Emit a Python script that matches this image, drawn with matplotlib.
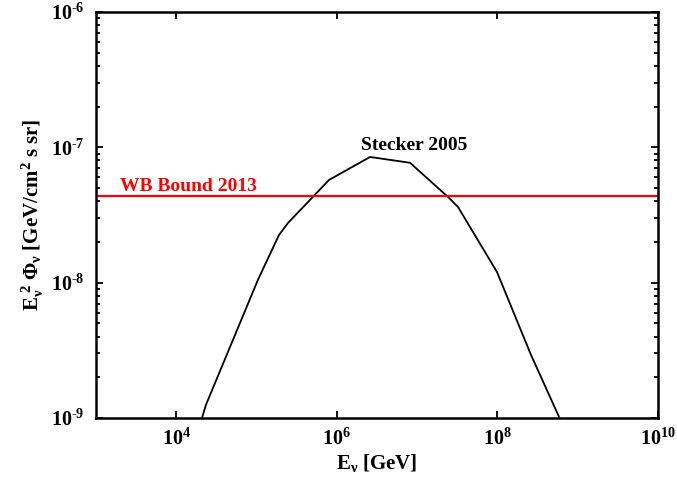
import numpy as np
import matplotlib
matplotlib.use("Agg")
import matplotlib.pyplot as plt
from matplotlib.ticker import LogLocator, NullFormatter, NullLocator, FuncFormatter

# fuentes tipo Times en negrita
plt.rcParams['font.family'] = 'Liberation Serif'
plt.rcParams['font.weight'] = 'bold'
plt.rcParams['axes.labelweight'] = 'bold'
plt.rcParams['axes.unicode_minus'] = False
plt.rcParams['mathtext.fontset'] = 'custom'
plt.rcParams['mathtext.rm'] = 'Liberation Serif:bold'
plt.rcParams['mathtext.it'] = 'Liberation Serif:bold'
plt.rcParams['mathtext.bf'] = 'Liberation Serif:bold'

# Stecker 2005
energy = [2.09e4, 2.34e4, 1.04e5, 1.90e5, 2.46e5, 7.98e5, 2.59e6, 8.15e6,
          2.42e7, 3.23e7, 9.86e7, 2.62e8, 5.93e8]
flux = [1.0e-9, 1.25e-9, 1.05e-8, 2.25e-8, 2.76e-8, 5.74e-8, 8.49e-8, 7.69e-8,
        4.30e-8, 3.62e-8, 1.20e-8, 2.92e-9, 1.0e-9]

# cota Waxman-Bahcall 2013
wb_bound = 4.4e-8

# marcas de los ejes
xticks = [1e4, 1e6, 1e8, 1e10]
yticks = [1e-9, 1e-8, 1e-7, 1e-6]


def pot10(v, pos):
    e = int(round(np.log10(v)))
    if e < 0:
        return r'$10^{\text{-}%d}$' % (-e)
    return r'$10^{%d}$' % e


fig = plt.figure(figsize=(6.77, 4.83), dpi=100)
ax = fig.add_axes([0.1418, 0.1346, 0.8302, 0.8405])

ax.plot(energy, flux, color='black', lw=1.3)
ax.axhline(wb_bound, color='red', lw=1.6)

ax.set_xscale('log')
ax.set_yscale('log')
ax.set_xlim(1e3, 1e10)
ax.set_ylim(1e-9, 1e-6)

ax.set_xticks(xticks)
ax.set_yticks(yticks)
ax.xaxis.set_minor_locator(NullLocator())
ax.xaxis.set_major_formatter(FuncFormatter(pot10))
ax.yaxis.set_major_formatter(FuncFormatter(pot10))
ax.yaxis.set_minor_locator(LogLocator(base=10, subs=np.arange(2, 10), numticks=10))
ax.yaxis.set_minor_formatter(NullFormatter())

ax.tick_params(which='both', direction='in', top=True, right=True,
               labelsize=14.5, width=1.3, pad=8)
ax.tick_params(which='major', length=5)
ax.tick_params(which='minor', length=3)
for s in ax.spines.values():
    s.set_linewidth(1.8)

ax.set_xlabel(r'E$_\nu$ [GeV]', fontsize=15, labelpad=1)
ax.set_ylabel(r'E$_\nu^{\ 2}$ $\Phi_\nu$ [GeV/cm$^2$ s sr]', fontsize=15, labelpad=4)

ax.text(2.0e3, 4.75e-8, 'WB Bound 2013', color='red', fontsize=14, fontweight='bold')
ax.text(2.0e6, 9.5e-8, 'Stecker 2005', color='black', fontsize=14, fontweight='bold')

fig.savefig('out.png', dpi=100)
